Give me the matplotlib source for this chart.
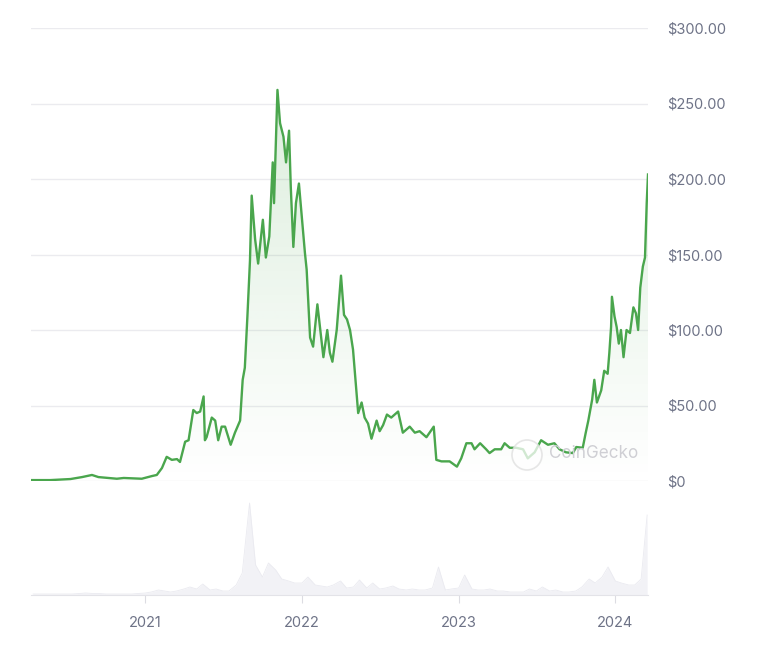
import numpy as np
import pandas as pd
import matplotlib
matplotlib.use("Agg")
import matplotlib.pyplot as plt
import matplotlib.dates as mdates
from matplotlib.patches import Polygon, Circle
from matplotlib.ticker import FuncFormatter

plt.rcParams['font.family'] = ['Inter', 'DejaVu Sans']

# price series
price_dates = [
    "2020-04-10", "2020-05-25", "2020-07-11", "2020-08-07", "2020-08-30", "2020-09-14",
    "2020-10-27", "2020-11-12", "2020-12-24", "2021-01-17", "2021-01-28", "2021-02-09",
    "2021-02-20", "2021-03-04", "2021-03-16", "2021-03-23", "2021-04-04", "2021-04-12",
    "2021-04-23", "2021-05-01", "2021-05-09", "2021-05-17", "2021-05-20", "2021-05-24",
    "2021-06-05", "2021-06-13", "2021-06-20", "2021-06-28", "2021-07-06", "2021-07-19",
    "2021-07-29", "2021-08-10", "2021-08-16", "2021-08-21", "2021-08-27", "2021-09-02",
    "2021-09-06", "2021-09-14", "2021-09-21", "2021-10-02", "2021-10-09", "2021-10-17",
    "2021-10-25", "2021-10-28", "2021-11-05", "2021-11-11", "2021-11-19", "2021-11-25",
    "2021-12-02", "2021-12-06", "2021-12-12", "2021-12-18", "2021-12-25", "2021-12-31",
    "2022-01-08", "2022-01-12", "2022-01-20", "2022-01-27", "2022-02-06", "2022-02-12",
    "2022-02-20", "2022-03-01", "2022-03-07", "2022-03-13", "2022-03-23", "2022-04-02",
    "2022-04-09", "2022-04-16", "2022-04-23", "2022-04-30", "2022-05-12", "2022-05-20",
    "2022-05-27", "2022-06-04", "2022-06-12", "2022-06-24", "2022-07-01", "2022-07-09",
    "2022-07-18", "2022-07-28", "2022-08-13", "2022-08-24", "2022-09-09", "2022-09-21",
    "2022-10-02", "2022-10-18", "2022-11-04", "2022-11-10", "2022-11-22", "2022-12-11",
    "2022-12-28", "2023-01-07", "2023-01-19", "2023-01-31", "2023-02-07", "2023-02-20",
    "2023-03-06", "2023-03-14", "2023-03-26", "2023-04-10", "2023-04-18", "2023-04-30",
    "2023-05-15", "2023-05-31", "2023-06-11", "2023-06-27", "2023-07-12", "2023-07-28",
    "2023-08-12", "2023-08-24", "2023-09-08", "2023-09-24", "2023-10-02", "2023-10-17",
    "2023-10-24", "2023-10-30", "2023-11-08", "2023-11-13", "2023-11-19", "2023-11-29",
    "2023-12-06", "2023-12-14", "2023-12-18", "2023-12-22", "2023-12-24", "2023-12-30",
    "2024-01-04", "2024-01-09", "2024-01-14", "2024-01-20", "2024-01-27", "2024-02-04",
    "2024-02-12", "2024-02-18", "2024-02-23", "2024-02-28", "2024-03-05", "2024-03-10",
    "2024-03-14", "2024-03-17",
]
prices = [
    0.6, 0.6, 1.3, 2.6, 4.0, 2.6,
    1.5, 2.0, 1.5, 3.3, 4.0, 8.6,
    16, 14, 14.5, 12.6, 26, 27,
    47, 45, 46, 56, 27, 29,
    42, 40, 27, 36, 36, 24,
    32, 40, 67, 75, 109, 146,
    189, 160, 144, 173, 148, 162,
    211, 184, 259, 237, 228, 211,
    232, 195, 155, 184, 197, 177,
    151, 140, 95, 89, 117, 102,
    82, 100, 85, 79, 100, 136,
    110, 107, 100, 87, 45, 52,
    42, 38, 28, 40, 33, 37,
    44, 42, 46, 32, 36, 32,
    33, 29, 36, 14, 13, 13,
    9.5, 15, 25, 25, 21, 25,
    21, 18.5, 21, 21, 25, 22,
    22, 21, 15, 19, 27, 24,
    25, 21, 19, 18.5, 22.5, 22,
    32, 40, 54, 67, 52, 60,
    73, 71, 85, 102, 122, 109,
    102, 91, 100, 82, 100, 98,
    115, 111, 100, 128, 142, 148,
    184, 203,
]

# volume, semi-monthly, relative heights
volume = [
    1, 1, 1, 1, 1, 1, 1, 1.5, 2, 1.5, 1.5, 1, 1, 1, 1, 1, 1.5,
    2, 3, 5, 4, 3, 4, 6, 8, 6, 11, 5, 6, 4, 4, 10, 22, 92, 30, 18, 32, 25, 16, 14, 12,
    12, 18, 10, 9, 8, 10, 14, 7, 8, 15, 7, 12, 6, 7, 9, 6, 5, 6, 5, 5, 7, 28, 5, 6,
    7, 20, 6, 5, 5, 6, 4, 4, 3, 3, 3, 6, 4, 8, 4, 5, 3, 3, 4, 8, 16, 12, 18, 28,
    14, 12, 10, 10, 16, 80,
]
vol_dates = pd.date_range("2020-04-15", periods=len(volume), freq="SMS")

year_ticks = ["2021-01-01", "2022-01-01", "2023-01-01", "2024-01-01"]
year_labels = ["2021", "2022", "2023", "2024"]
price_ticks = [0, 50, 100, 150, 200, 250, 300]

green = "#4aa64d"
text_col = "#6e7387"

x = mdates.date2num(pd.to_datetime(price_dates))
y = np.array(prices)
xv = mdates.date2num(vol_dates)
x0, x1 = x[0], x[-1]

fig = plt.figure(figsize=(7.68, 6.5), dpi=100)
ax = fig.add_axes([31 / 768, 1 - 481 / 650, 617 / 768, 453 / 650])
axv = fig.add_axes([31 / 768, 1 - 595 / 650, 617 / 768, 105 / 650])

# gradient fill under the line
grad = np.zeros((256, 1, 4))
grad[..., :3] = matplotlib.colors.to_rgb(green)
grad[:, 0, 3] = np.linspace(0.22, 0.0, 256)
im = ax.imshow(grad, extent=[x0, x1, 0, 300], aspect="auto", origin="upper", zorder=1)
verts = np.column_stack([np.r_[x0, x, x1], np.r_[0, y, 0]])
clip = Polygon(verts, closed=True, facecolor="none", edgecolor="none")
ax.add_patch(clip)
im.set_clip_path(clip)

ax.plot(x, y, color=green, lw=1.7, solid_joinstyle="round", zorder=3)

ax.set_xlim(x0, x1)
ax.set_ylim(0, 300)
ax.set_yticks(price_ticks)
ax.yaxis.tick_right()
ax.yaxis.set_major_formatter(FuncFormatter(lambda v, p: "$0" if v == 0 else f"${v:,.2f}"))
ax.tick_params(axis="y", length=0, pad=14, labelsize=10.5, labelcolor=text_col)
ax.set_xticks([])
ax.grid(axis="y", color="#ebebef", lw=1)
ax.set_axisbelow(True)
for s in ax.spines.values():
    s.set_visible(False)

# volume panel
axv.fill_between(xv, volume, color="#f2f2f6", lw=0)
axv.plot(xv, volume, color="#eaeaf0", lw=0.6)
axv.set_xlim(x0, x1)
axv.set_ylim(0, 105)
axv.set_yticks([])
axv.set_xticks(mdates.date2num(pd.to_datetime(year_ticks)))
axv.set_xticklabels(year_labels)
axv.tick_params(axis="x", length=6, color="#dcdce2", pad=9, labelsize=10.5, labelcolor=text_col)
for k in ["top", "left", "right"]:
    axv.spines[k].set_visible(False)
axv.spines["bottom"].set_color("#e3e3e8")

# watermark
fig.add_artist(Circle((527, 650 - 455), 15, transform=None, facecolor="white",
                      edgecolor="#dedede", lw=1.2, alpha=0.75, zorder=5))
fig.text(549 / 768, 1 - 454 / 650, "CoinGecko", color="#cfcfd4", fontsize=12.3,
         ha="left", va="center", zorder=6)

fig.savefig("out.png", dpi=100)
